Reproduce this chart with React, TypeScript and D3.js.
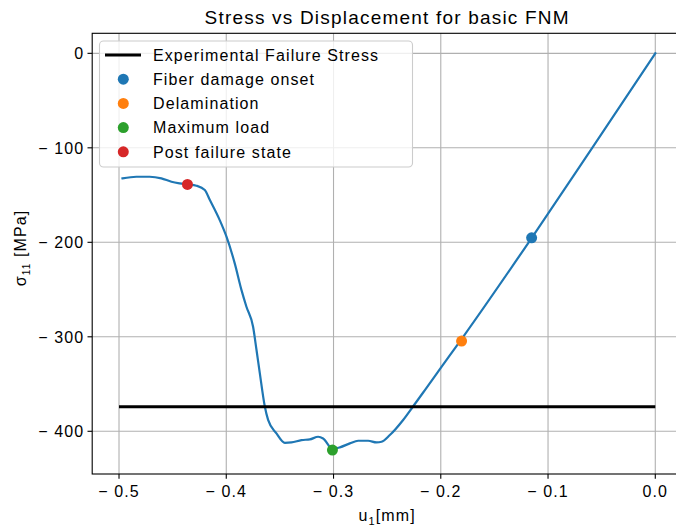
import React from "react";
import * as d3 from "d3";

// curve: u1 [mm], sigma11 [MPa]
const dispU1 = [
  -0.4968, -0.4838, -0.4714, -0.4605, -0.4511, -0.4434, -0.4362, -0.4278, -0.42, -0.4154,
  -0.4061, -0.3998, -0.3921, -0.3858, -0.3812, -0.375, -0.3718, -0.3687, -0.3641, -0.361,
  -0.3532, -0.3454, -0.3392, -0.3299, -0.3221, -0.3143, -0.3097, -0.301, -0.2941, -0.2848,
  -0.277, -0.2677, -0.2599, -0.2552, -0.2475, -0.2351, -0.2257, -0.2148, -0.2, -0.1791,
  -0.118, -0.0588, 0,
];
const stressS11 = [
  -132.3, -130.6, -130.6, -132.3, -135.9, -137.6, -138.7, -140.1, -144.7, -155,
  -176.5, -194.1, -222.3, -250.6, -268.2, -289.4, -314, -338.7, -373.5, -388,
  -402.2, -412.2, -411.8, -409.3, -408.6, -405.8, -407.6, -418.5, -417, -412.8,
  -410, -410, -411.8, -411.1, -404, -388, -373.5, -356.4, -333, -300,
  -200, -100, 0,
];

const expFailure = -374;
const expRange = [-0.5, 0];

const eventNames = ["Fiber damage onset", "Delamination", "Maximum load", "Post failure state"];
const eventU1 = [-0.1153, -0.1806, -0.301, -0.4362];
const eventS11 = [-195.2, -304.5, -419.9, -138.7];
const eventColors = ["#1f77b4", "#ff7f0e", "#2ca02c", "#d62728"];

const xTicks = [-0.5, -0.4, -0.3, -0.2, -0.1, 0.0];
const yTicks = [0, -100, -200, -300, -400];

const W = 676;
const H = 529;
const PLOT = { left: 92.2, right: 682.1, top: 33.3, bottom: 474 };
const FONT = "'Liberation Sans', Arial, sans-serif";

const fmtX = (v: number) => (v < 0 ? "\u2212 " + Math.abs(v).toFixed(1) : v.toFixed(1));
const fmtY = (v: number) => (v < 0 ? "\u2212 " + Math.abs(v) : String(v));

export default function App() {
  const x = d3.scaleLinear().domain([-0.525, 0.025]).range([PLOT.left, PLOT.right]);
  const y = d3.scaleLinear().domain([-445.2, 21.2]).range([PLOT.bottom, PLOT.top]);

  const pts = dispU1.map((u, i) => [u, stressS11[i]] as [number, number]);
  const line = d3.line<[number, number]>()
    .x(d => x(d[0]))
    .y(d => y(d[1]))
    .curve(d3.curveMonotoneX)(pts) || "";

  const legendX = 99.5;
  const legendY = 41;
  const rowH = 24.2;

  return (
    <svg width={W} height={H} style={{ position: "absolute", left: 0, top: 0, background: "#fff" }}>
      <defs>
        <clipPath id="plot-clip">
          <rect x={PLOT.left} y={PLOT.top} width={PLOT.right - PLOT.left} height={PLOT.bottom - PLOT.top} />
        </clipPath>
      </defs>
      <rect width={W} height={H} fill="#fff" />

      {/* grid */}
      <g stroke="#b0b0b0" strokeWidth={1.1}>
        {xTicks.map(t => (
          <line key={"gx" + t} x1={x(t)} x2={x(t)} y1={PLOT.top} y2={PLOT.bottom} />
        ))}
        {yTicks.map(t => (
          <line key={"gy" + t} x1={PLOT.left} x2={PLOT.right} y1={y(t)} y2={y(t)} />
        ))}
      </g>

      <g clipPath="url(#plot-clip)">
        <path d={line} fill="none" stroke="#1f77b4" strokeWidth={2.2} strokeLinejoin="round" strokeLinecap="square" />
        <line x1={x(expRange[0])} x2={x(expRange[1])} y1={y(expFailure)} y2={y(expFailure)} stroke="#000" strokeWidth={3} />
        {eventNames.map((n, i) => (
          <circle key={n} cx={x(eventU1[i])} cy={y(eventS11[i])} r={5.5} fill={eventColors[i]} />
        ))}
      </g>

      {/* spines */}
      <rect x={PLOT.left} y={PLOT.top} width={PLOT.right - PLOT.left} height={PLOT.bottom - PLOT.top}
        fill="none" stroke="#000" strokeWidth={1.1} />

      {/* axes */}
      <g fontFamily={FONT} fontSize={16} letterSpacing={1.1} fill="#000">
        {xTicks.map(t => (
          <g key={"tx" + t}>
            <line x1={x(t)} x2={x(t)} y1={PLOT.bottom} y2={PLOT.bottom + 4.7} stroke="#000" strokeWidth={1.1} />
            <text x={x(t)} y={PLOT.bottom + 23} textAnchor="middle">{fmtX(t)}</text>
          </g>
        ))}
        {yTicks.map(t => (
          <g key={"ty" + t}>
            <line x1={PLOT.left - 4.7} x2={PLOT.left} y1={y(t)} y2={y(t)} stroke="#000" strokeWidth={1.1} />
            <text x={PLOT.left - 8} y={y(t)} dy="0.36em" textAnchor="end">{fmtY(t)}</text>
          </g>
        ))}
        <text x={(PLOT.left + PLOT.right) / 2} y={521} textAnchor="middle">
          u<tspan fontSize={11} dy={4}>1</tspan><tspan dy={-4}>[mm]</tspan>
        </text>
        <text transform={`translate(26,248) rotate(-90)`} textAnchor="middle">
          σ<tspan fontSize={10} dy={4}>11</tspan><tspan dy={-4}> [MPa]</tspan>
        </text>
      </g>

      {/* title */}
      <text x={(PLOT.left + PLOT.right) / 2} y={24} textAnchor="middle" fontFamily={FONT} fontSize={19} letterSpacing={1.2}>
        Stress vs Displacement for basic FNM
      </text>

      {/* legend */}
      <g fontFamily={FONT} fontSize={16} letterSpacing={1.1}>
        <rect x={legendX} y={legendY} width={313} height={126} rx={4} fill="#fff" fillOpacity={0.8} stroke="#cccccc" strokeWidth={1.1} />
        <line x1={105} x2={141} y1={legendY + 14} y2={legendY + 14} stroke="#000" strokeWidth={3} />
        <text x={153} y={legendY + 14} dy="0.36em">Experimental Failure Stress</text>
        {eventNames.map((n, i) => (
          <g key={"lg" + n}>
            <circle cx={123.3} cy={legendY + 14 + rowH * (i + 1)} r={5.5} fill={eventColors[i]} />
            <text x={153} y={legendY + 14 + rowH * (i + 1)} dy="0.36em">{n}</text>
          </g>
        ))}
      </g>
    </svg>
  );
}
